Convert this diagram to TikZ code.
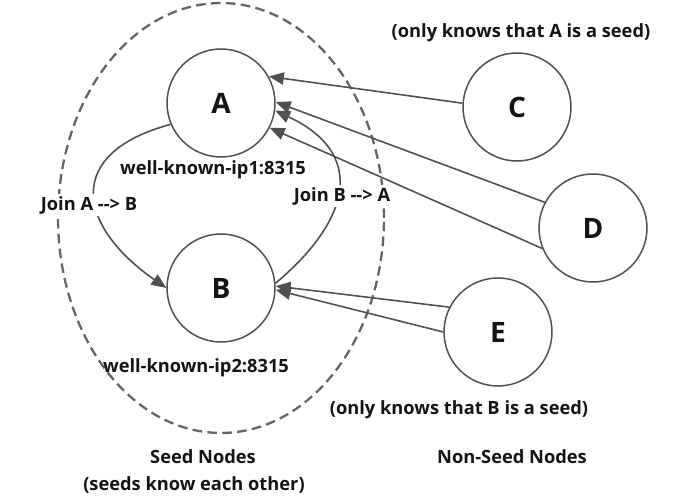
\documentclass[tikz,border=0pt]{standalone}
\usepackage{fontspec}
\setmainfont{Open Sans}
\usetikzlibrary{arrows.meta}
\definecolor{gsLine}{RGB}{80,80,80}
\definecolor{gsDash}{RGB}{100,100,100}
\definecolor{gsText}{RGB}{20,20,20}
\tikzset{
  peer/.style={circle, draw=gsLine, line width=0.85pt, minimum size=2.16cm,
    inner sep=0pt, font=\fontsize{16}{18}\selectfont\bfseries, text=gsText},
  lbl/.style={font=\fontsize{10.4}{12}\selectfont\bfseries, text=gsText, align=center},
  joinlbl/.style={lbl, fill=white, inner sep=1pt},
  link/.style={-{Triangle[length=8.5pt,width=7pt]}, draw=gsLine, line width=0.9pt},
  seedring/.style={draw=gsDash, line width=1.3pt, dash pattern=on 5.5pt off 3pt},
}

\begin{document}
\begin{tikzpicture}[x=0.02cm, y=0.02cm]
\useasboundingbox (0,0) rectangle (700,500);

%% SEED GROUP
\draw[seedring] (221,282) ellipse [x radius=3.26cm, y radius=4.3cm];

%% PEERS
\node[peer] (A) at (221,397) {A};
\node[peer] (B) at (221,212) {B};
\node[peer] (C) at (517,393) {C};
\node[peer] (D) at (593,272) {D};
\node[peer] (E) at (498,168) {E};

%% ARROWS -- seeds joining each other
\draw[link] (A.203) .. controls +(195:110) and +(145:110) .. (B.180);
\draw[link] (B.5) .. controls +(40:100) and +(-25:100) .. (A.-8);

%% ARROWS -- non-seeds to their known seed
\draw[link] (C.176) -- (A.29);
\draw[link] (D.152) -- (A.1);
\draw[link] (D.202) -- (A.-27);
\draw[link] (E.153) -- (B.2);
\draw[link] (E.180) -- (B.-2);

%% LABELS
\node[lbl] (c_note)  at (521,467) {(only knows that A is a seed)};
\node[lbl] (ip1)     at (213,330) {well-known-ip1:8315};
\node[joinlbl] (join_ab) at (89,295)  {Join A {-}{-}> B};
\node[joinlbl] (join_ba) at (342,304) {Join B {-}{-}> A};
\node[lbl] (ip2)     at (196,132) {well-known-ip2:8315};
\node[lbl] (e_note)  at (459,90)  {(only knows that B is a seed)};
\node[lbl] (seed_title) at (203,43) {Seed Nodes};
\node[lbl] (seed_note)  at (194,15) {(seeds know each other)};
\node[lbl] (nonseed)    at (512,43) {Non-Seed Nodes};

\end{tikzpicture}
\end{document}
